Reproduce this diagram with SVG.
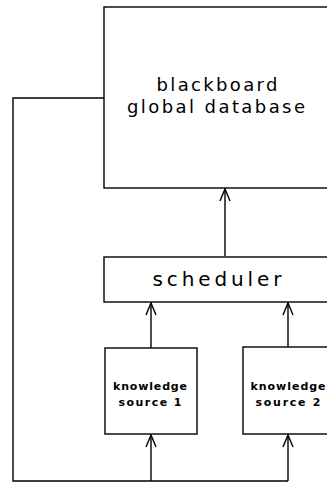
<svg xmlns="http://www.w3.org/2000/svg" width="327" height="484" viewBox="0 0 327 484">
<style>
.box{fill:#fff;stroke:#000;stroke-width:1.4}
.ln{fill:none;stroke:#000;stroke-width:1.4}
.t{font-family:"DejaVu Sans",sans-serif;fill:#000;text-anchor:middle}
.big{font-size:18px}
.sm{font-size:11px;font-weight:bold}
</style>
<defs>
<marker id="ah" markerWidth="16" markerHeight="12" refX="15" refY="6" orient="auto" markerUnits="userSpaceOnUse" viewBox="0 0 16 12">
<path d="M3 1 L15 6 L3 11" fill="none" stroke="#000" stroke-width="1.4"/>
</marker>
</defs>
<rect width="327" height="484" fill="#fff"/>
<g id="blackboard">
<rect class="box" x="104" y="7" width="240" height="181"/>
<text class="t big" x="217" y="91" textLength="121" lengthAdjust="spacing">blackboard</text>
<text class="t big" x="216" y="113" textLength="178" lengthAdjust="spacing">global database</text>
</g>
<g id="scheduler">
<rect class="box" x="104" y="257" width="240" height="45"/>
<text class="t" style="font-size:20px" x="217" y="286" textLength="129" lengthAdjust="spacing">scheduler</text>
</g>
<g id="ks1">
<rect class="box" x="105" y="348" width="92" height="86"/>
<text class="t sm" x="150" y="390" textLength="74" lengthAdjust="spacing">knowledge</text>
<text class="t sm" x="150" y="406" textLength="63" lengthAdjust="spacing">source  1</text>
</g>
<g id="ks2">
<rect class="box" x="243" y="347" width="100" height="87"/>
<text class="t sm" x="288" y="390" textLength="75" lengthAdjust="spacing">knowledge</text>
<text class="t sm" x="288" y="406" textLength="65" lengthAdjust="spacing">source  2</text>
</g>
<g id="connectors">
<path class="ln" d="M104 98 H13 V481 H288"/>
<path class="ln" d="M225 256 V189" marker-end="url(#ah)"/>
<path class="ln" d="M151 348 V303" marker-end="url(#ah)"/>
<path class="ln" d="M288 347 V303" marker-end="url(#ah)"/>
<path class="ln" d="M151 481 V435" marker-end="url(#ah)"/>
<path class="ln" d="M288 481 V435" marker-end="url(#ah)"/>
</g>
</svg>
